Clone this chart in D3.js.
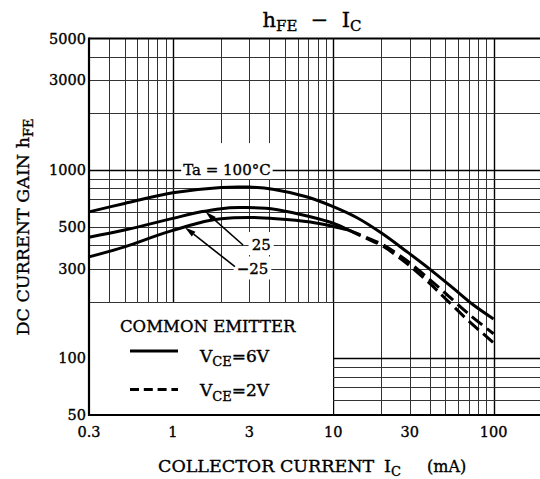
<!DOCTYPE html>
<html><head><meta charset="utf-8">
<script src="https://cdn.jsdelivr.net/npm/d3@7"></script>
<style>
body{margin:0;background:#fff}
svg{display:block}
text{font-family:"DejaVu Serif",serif;fill:#000;stroke:#000;stroke-width:0.35px}
</style>
</head><body>
<svg width="540" height="479"></svg>
<script>
// ---- data ----
const xTickLabels = [0.3, 1, 3, 10, 30, 100];
const yTickLabels = [50, 100, 300, 500, 1000, 3000, 5000];

// VCE = 6V (solid)
const ic100  = [0.3, 0.5, 1, 2, 3, 4.2, 6.8, 10, 14, 20, 29, 40, 56, 75, 100];
const hfe100 = [600, 665, 757, 809, 812, 792, 722, 640, 560, 463, 367, 298, 236, 192, 162];
const ic25   = [0.3, 0.5, 1, 1.5, 2, 2.6, 3.8, 4.5, 7, 10, 12.5];
const hfe25  = [440, 480, 554, 600, 624, 632, 627, 615, 568, 522, 480];
const icM25  = [0.3, 0.5, 0.8, 1, 1.6, 2, 3, 4.4, 7.2, 10, 12.5];
const hfeM25 = [346, 391, 450, 478, 535, 552, 560, 552, 530, 502, 480];
// VCE = 2V (dashed)
const icD    = [12.5, 16, 20, 25, 30, 40, 50, 70, 100];
const hfeDa  = [480, 440, 405, 360, 322, 262, 222, 172, 135];
const hfeDb  = [480, 435, 398, 350, 310, 250, 208, 158, 121];

// annotations [mA, hFE]
const labelTa  = {text: "Ta = 100°C", at: [1.16, 1000]};
const label25  = {text: "25",  at: [3.1, 400],  from: [2.74, 400], to: [1.6, 600]};
const labelM25 = {text: "−25", at: [2.5, 300],  from: [2.44, 307], to: [1.19, 496]};

// ---- scales ----
const svg = d3.select("svg");
const x = d3.scaleLog().domain([0.3, 200]).range([89, 541.8]);
const y = d3.scaleLog().domain([50, 5000]).range([415, 38.5]);
const px = v => Math.round(v) + 0.5;
const isMajor = v => Math.abs(Math.log10(v) - Math.round(Math.log10(v))) < 1e-9;

// ---- grid ----
const gx = x.ticks().filter(v => v > 0.3 + 1e-9 && v <= 100 + 1e-9);
const gy = y.ticks().filter(v => v > 50 + 1e-9 && v < 5000 - 1e-9);
const grid = svg.append("g");
grid.selectAll("line.v").data(gx).join("line")
  .attr("x1", d => px(x(d))).attr("x2", d => px(x(d)))
  .attr("y1", y(5000)).attr("y2", y(50))
  .attr("stroke", d => isMajor(d) ? "#000" : "#333")
  .attr("stroke-width", d => isMajor(d) ? 1.4 : 1);
grid.selectAll("line.h").data(gy).join("line")
  .attr("x1", x(0.3)).attr("x2", 540)
  .attr("y1", d => px(y(d))).attr("y2", d => px(y(d)))
  .attr("stroke", d => isMajor(d) ? "#000" : "#333")
  .attr("stroke-width", d => isMajor(d) ? 1.4 : 1);

// legend box (white area, grid hidden)
svg.append("rect")
  .attr("x", x(0.3) + 1).attr("y", px(y(200)) + 0.5)
  .attr("width", px(x(10)) - x(0.3) - 1.5)
  .attr("height", y(50) - px(y(200)) - 1)
  .attr("fill", "#fff");

// ---- labels on the grid with white background ----
const annG = svg.append("g");
function bgLabel(lbl, size, padT, padB, padL, padR) {
  const t = annG.append("text")
    .attr("x", x(lbl.at[0])).attr("y", y(lbl.at[1]))
    .attr("dominant-baseline", "central")
    .attr("font-size", size).text(lbl.text);
  const b = t.node().getBBox();
  annG.insert("rect", "text")
    .attr("x", b.x - padL).attr("y", b.y - padT)
    .attr("width", b.width + padL + padR).attr("height", b.height + padT + padB)
    .attr("fill", "#fff");
}
bgLabel(labelTa, 15, 18, 0, 2, 2);
bgLabel(label25, 15, 4, 1, 3, 3);
bgLabel(labelM25, 15, 3, 2, 3, 3);

// ---- curves ----
const line = d3.line().x(d => x(d[0])).y(d => y(d[1])).curve(d3.curveCatmullRom.alpha(0.5));
const zip = (a, b) => a.map((v, i) => [v, b[i]]);
const curves = svg.append("g").attr("fill", "none").attr("stroke", "#000").attr("stroke-linecap", "butt");
[zip(ic100, hfe100), zip(ic25, hfe25), zip(icM25, hfeM25)].forEach(d =>
  curves.append("path").attr("d", line(d)).attr("stroke-width", 3));
[zip(icD, hfeDa), zip(icD, hfeDb)].forEach(d =>
  curves.append("path").attr("d", line(d)).attr("stroke-width", 3).attr("stroke-dasharray", "13,6"));

// ---- arrows ----
function arrow(lbl) {
  const x0 = x(lbl.from[0]), y0 = y(lbl.from[1]), x1 = x(lbl.to[0]), y1 = y(lbl.to[1]);
  const dx = x1 - x0, dy = y1 - y0, L = Math.hypot(dx, dy), ux = dx / L, uy = dy / L;
  const hl = 11, hw = 3;
  const bx = x1 - ux * hl, by = y1 - uy * hl;
  svg.append("line").attr("x1", x0).attr("y1", y0).attr("x2", bx).attr("y2", by)
    .attr("stroke", "#000").attr("stroke-width", 1.6);
  svg.append("path")
    .attr("d", `M${x1},${y1}L${bx - uy * hw},${by + ux * hw}L${bx + uy * hw},${by - ux * hw}Z`)
    .attr("fill", "#000");
}
arrow(label25);
arrow(labelM25);

// ---- axes frame ----
svg.append("line").attr("x1", x(0.3)).attr("x2", x(0.3)).attr("y1", y(5000) - 1).attr("y2", y(50) + 1)
  .attr("stroke", "#000").attr("stroke-width", 2.2);
svg.append("line").attr("x1", x(0.3)).attr("x2", 540).attr("y1", y(5000)).attr("y2", y(5000))
  .attr("stroke", "#000").attr("stroke-width", 2.2);
svg.append("line").attr("x1", x(0.3)).attr("x2", 540).attr("y1", y(50)).attr("y2", y(50))
  .attr("stroke", "#000").attr("stroke-width", 2.2);

// ---- tick labels ----
svg.append("g").selectAll("text").data(yTickLabels).join("text")
  .attr("x", 86).attr("y", d => y(d)).attr("text-anchor", "end")
  .attr("dominant-baseline", "central").attr("font-size", 14.5).text(d => d);
svg.append("g").selectAll("text").data(xTickLabels).join("text")
  .attr("x", d => x(d)).attr("y", 437).attr("text-anchor", "middle")
  .attr("font-size", 14.5).text(d => d);

// ---- title ----
const title = svg.append("text").attr("x", 312).attr("y", 27).attr("text-anchor", "middle")
  .attr("font-size", 21).attr("xml:space", "preserve");
title.append("tspan").text("h");
title.append("tspan").attr("font-size", 15).attr("dy", 4).text("FE");
title.append("tspan").attr("dy", -4).text("  −  I");
title.append("tspan").attr("font-size", 15).attr("dy", 4).text("C");

// ---- axis titles ----
svg.append("text").attr("x", 158).attr("y", 471.5).attr("font-size", 17.5).text("COLLECTOR CURRENT");
const ic = svg.append("text").attr("x", 384).attr("y", 471.5).attr("font-size", 17.5);
ic.append("tspan").text("I");
ic.append("tspan").attr("font-size", 13).attr("dy", 4).text("C");
svg.append("text").attr("x", 427).attr("y", 471.5).attr("font-size", 16).text("(mA)");

const yt = svg.append("text").attr("transform", "translate(29,227) rotate(-90)")
  .attr("text-anchor", "middle").attr("font-size", 17.5);
yt.append("tspan").text("DC CURRENT GAIN h");
yt.append("tspan").attr("font-size", 13).attr("dy", 4).text("FE");

// ---- legend ----
svg.append("text").attr("x", 120).attr("y", 331.5).attr("font-size", 16.5).text("COMMON EMITTER");
svg.append("line").attr("x1", 130).attr("x2", 178).attr("y1", 351).attr("y2", 351)
  .attr("stroke", "#000").attr("stroke-width", 3);
svg.append("line").attr("x1", 130).attr("x2", 178).attr("y1", 389.5).attr("y2", 389.5)
  .attr("stroke", "#000").attr("stroke-width", 3).attr("stroke-dasharray", "9,4.8");
function vce(yb, v) {
  const t = svg.append("text").attr("x", 200).attr("y", yb).attr("font-size", 17);
  t.append("tspan").text("V");
  t.append("tspan").attr("font-size", 13).attr("dy", 4.5).text("CE");
  t.append("tspan").attr("dy", -4.5).text("=" + v + "V");
}
vce(361.5, 6);
vce(396, 2);
</script>
</body></html>
